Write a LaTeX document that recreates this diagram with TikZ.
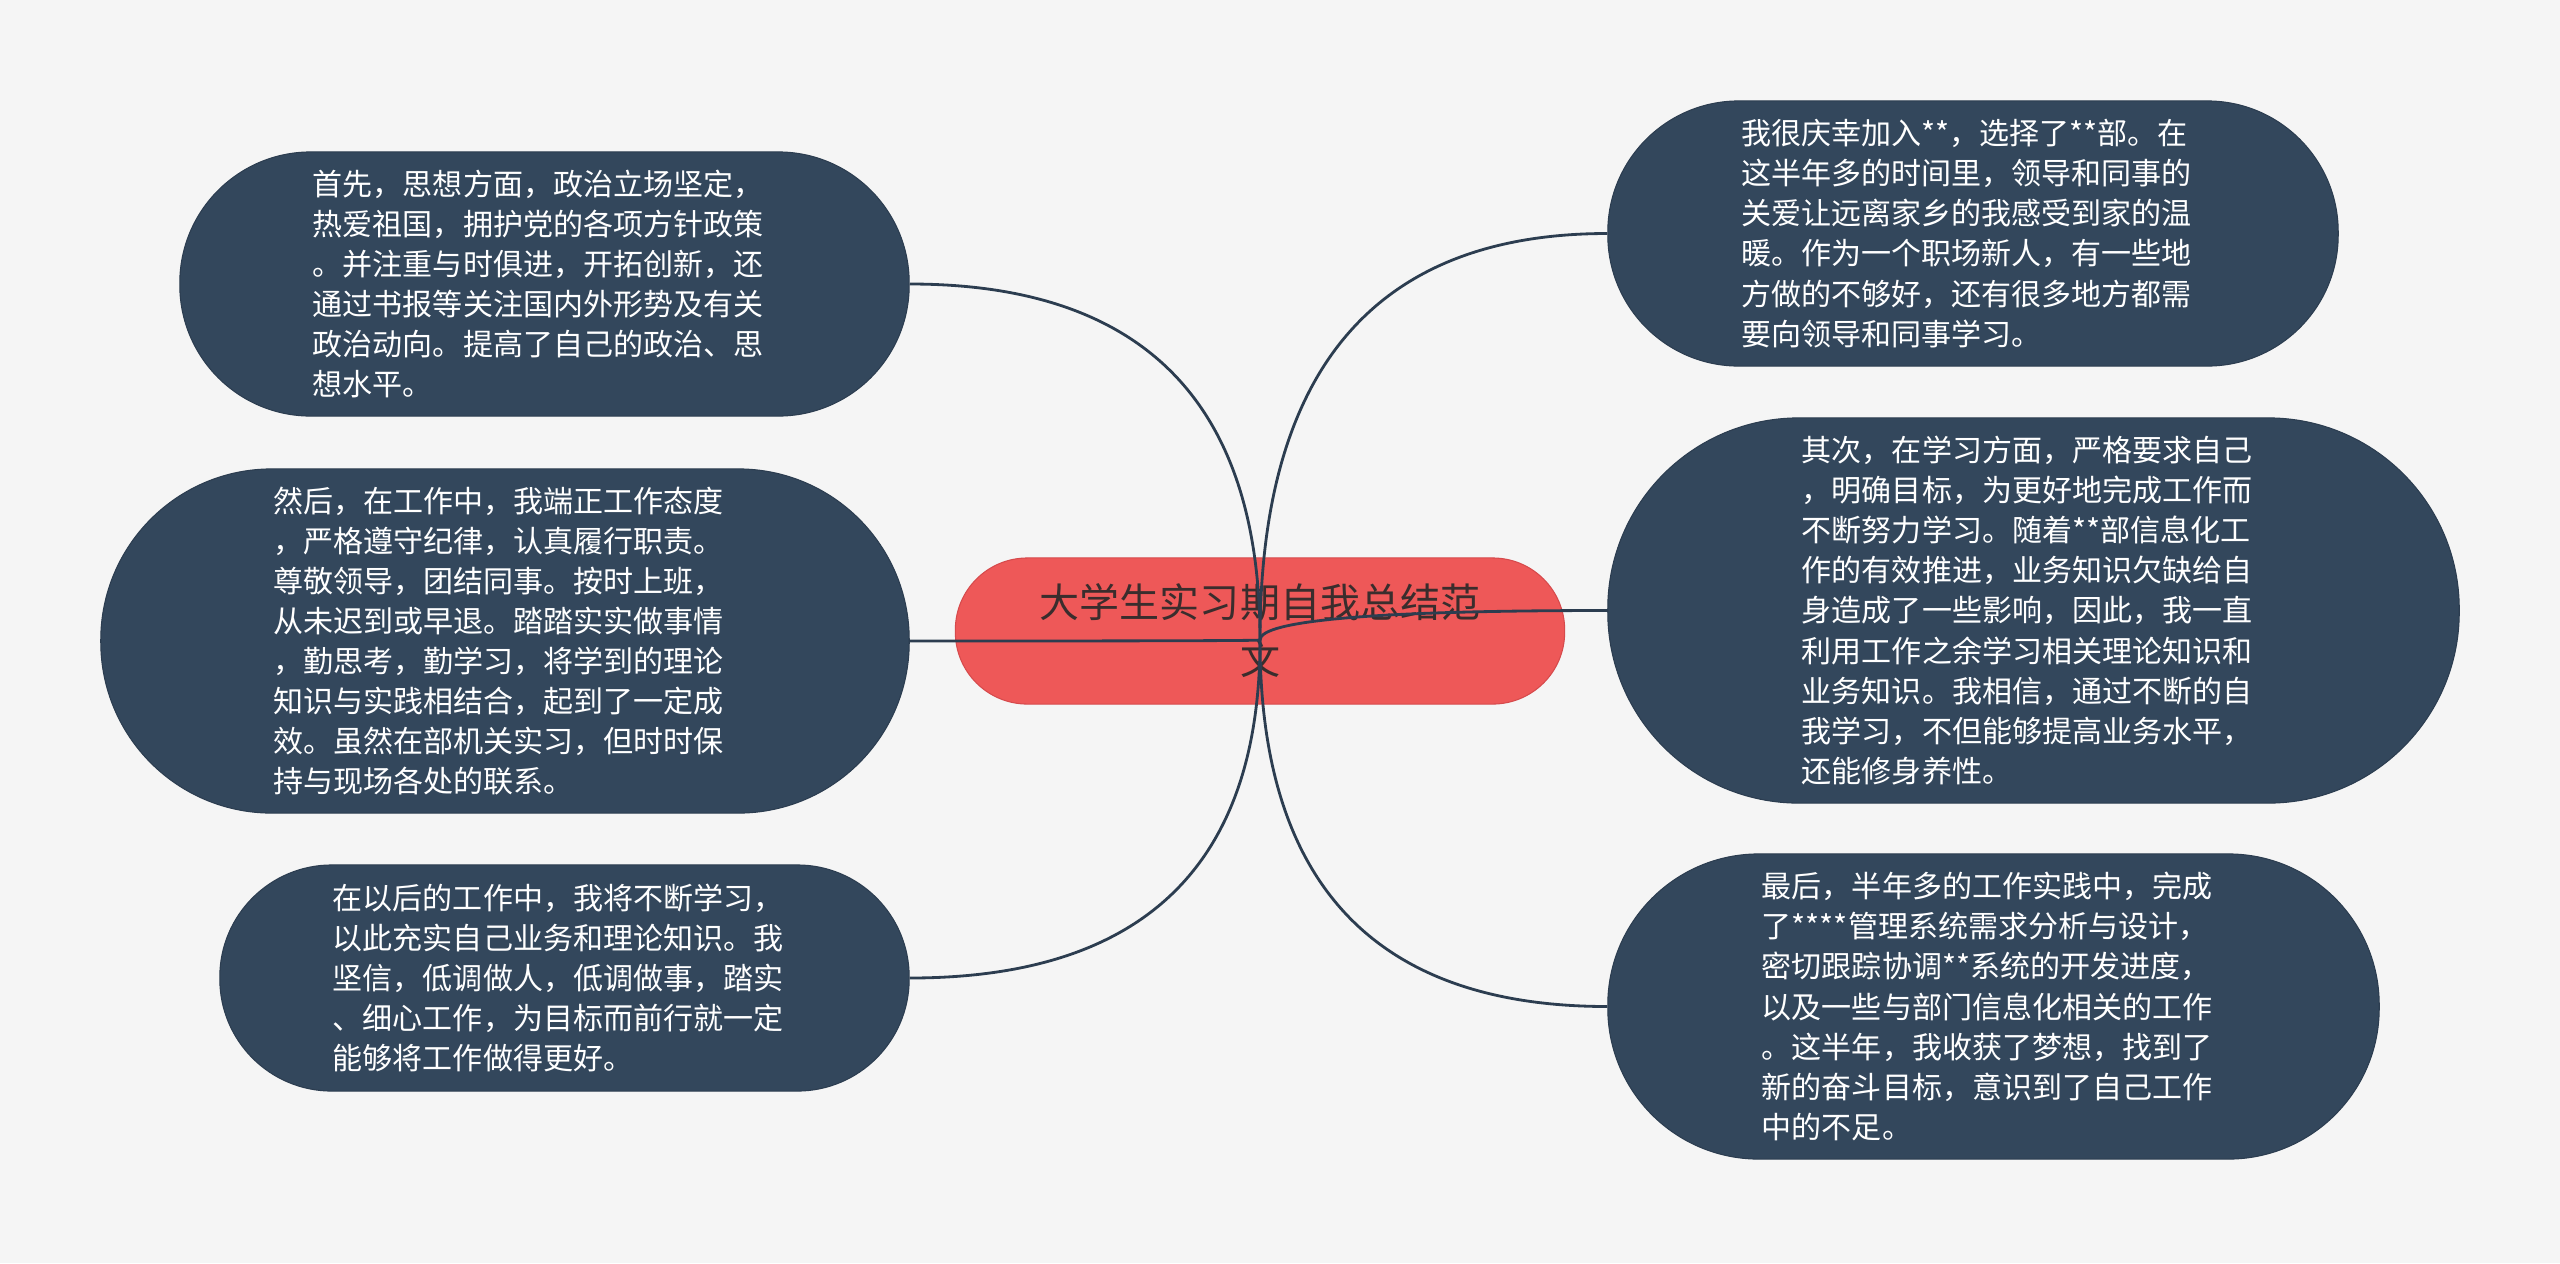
\documentclass[tikz,border=0pt]{standalone}
\usepackage{fontspec}
\setmainfont{Noto Sans CJK SC}
\usetikzlibrary{calc}
\definecolor{paper}{HTML}{F5F5F5}
\definecolor{slate}{HTML}{33475C}
\definecolor{slateline}{HTML}{2C3D50}
\definecolor{coral}{HTML}{EE5858}
\definecolor{coralline}{HTML}{D64A4C}
\definecolor{ink}{HTML}{3A2D2D}
\tikzset{
	leaf/.style={draw=slateline, fill=slate, text=white, align=left, text width=4.63cm, inner sep=0pt, line width=0.3pt, font=\fontsize{8.54pt}{11.4pt}\selectfont},
	title/.style={draw=coralline, fill=coral, text=ink, align=center, inner sep=0pt, line width=0.3pt, font=\fontsize{11.38pt}{16.2pt}\selectfont},
	link/.style={draw=slateline, line width=0.8pt},
}
\newcommand{\branch}[1] % target anchor, leaves the hub vertically
{
	% quadratic bend through the corner (hub |- target)
	\draw[link] (hub) .. controls ($(hub)!0.667!(hub |- #1)$) and ($(#1)!0.667!(hub |- #1)$) .. (#1);
}

\begin{document}
\begin{tikzpicture}[x=0.01cm, y=-0.01cm]
	% 2560px x 1263px, 1px = 0.01cm
	\fill[paper] (0,0) rectangle (2560,1263);
	\useasboundingbox (0,0) rectangle (2560,1263);
	
	\node[title, minimum width=6.09cm, minimum height=1.46cm, rounded corners=0.72cm] (title) at (1260,631) {大学生实习期自我总结范\\文};
	
	% left side
	\node[leaf, minimum width=7.29cm, minimum height=2.64cm, rounded corners=1.31cm] (thought) at (544.5,284) {首先，思想方面，政治立场坚定，\\热爱祖国，拥护党的各项方针政策\\。并注重与时俱进，开拓创新，还\\通过书报等关注国内外形势及有关\\政治动向。提高了自己的政治、思\\想水平。};
	\node[leaf, minimum width=8.08cm, minimum height=3.44cm, rounded corners=1.71cm] (work) at (505,641) {然后，在工作中，我端正工作态度\\，严格遵守纪律，认真履行职责。\\尊敬领导，团结同事。按时上班，\\从未迟到或早退。踏踏实实做事情\\，勤思考，勤学习，将学到的理论\\知识与实践相结合，起到了一定成\\效。虽然在部机关实习，但时时保\\持与现场各处的联系。};
	\node[leaf, minimum width=6.89cm, minimum height=2.26cm, rounded corners=1.12cm] (future) at (564.5,978) {在以后的工作中，我将不断学习，\\以此充实自己业务和理论知识。我\\坚信，低调做人，低调做事，踏实\\、细心工作，为目标而前行就一定\\能够将工作做得更好。};
	
	% right side
	\node[leaf, minimum width=7.30cm, minimum height=2.65cm, rounded corners=1.31cm] (join) at (1973,233.5) {我很庆幸加入**，选择了**部。在\\这半年多的时间里，领导和同事的\\关爱让远离家乡的我感受到家的温\\暖。作为一个职场新人，有一些地\\方做的不够好，还有很多地方都需\\要向领导和同事学习。};
	\node[leaf, minimum width=8.51cm, minimum height=3.85cm, rounded corners=1.91cm] (study) at (2033.5,610.5) {其次，在学习方面，严格要求自己\\，明确目标，为更好地完成工作而\\不断努力学习。随着**部信息化工\\作的有效推进，业务知识欠缺给自\\身造成了一些影响，因此，我一直\\利用工作之余学习相关理论知识和\\业务知识。我相信，通过不断的自\\我学习，不但能够提高业务水平，\\还能修身养性。};
	\node[leaf, minimum width=7.71cm, minimum height=3.05cm, rounded corners=1.51cm] (result) at (1993.5,1006.5) {最后，半年多的工作实践中，完成\\了****管理系统需求分析与设计，\\密切跟踪协调**系统的开发进度，\\以及一些与部门信息化相关的工作\\。这半年，我收获了梦想，找到了\\新的奋斗目标，意识到了自己工作\\中的不足。};
	
	% connectors
	\coordinate (hub) at (1260,640);
	\branch{thought.east};
	\branch{work.east};
	\branch{future.east};
	\branch{join.west};
	\branch{study.west};
	\branch{result.west};
\end{tikzpicture}
\end{document}
